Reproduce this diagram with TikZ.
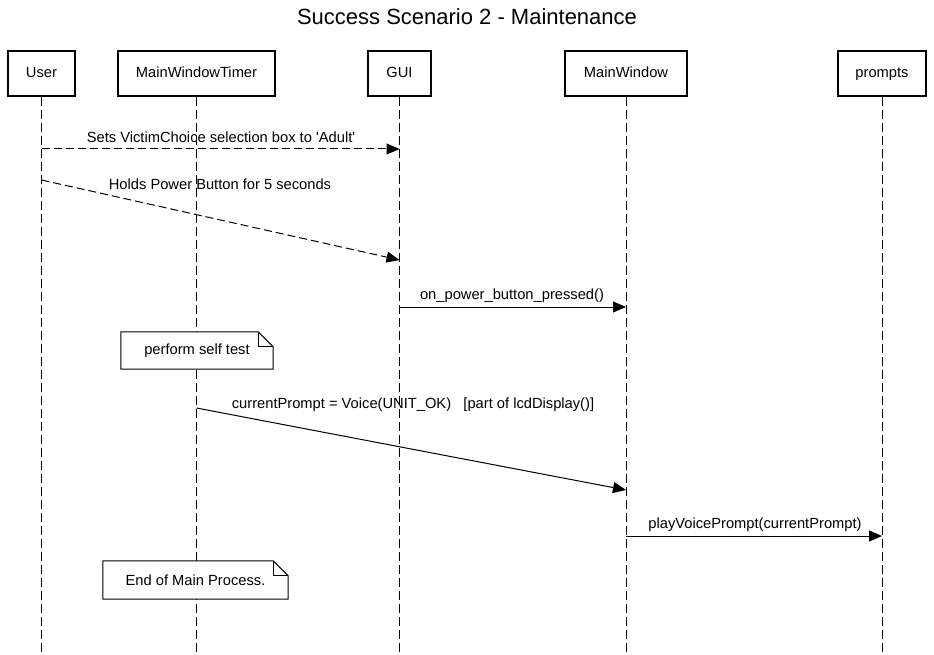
\documentclass[tikz,border=0pt]{standalone}
\usepackage{fontspec}
\setmainfont{Liberation Sans}
\usetikzlibrary{arrows.meta}
\newcommand\straightq{\XeTeXglyph\XeTeXglyphindex "quotesingle"\relax}
\begin{document}
\begin{tikzpicture}[x=1pt,y=-1pt,
  actor/.style={draw=black, line width=2pt, minimum height=45pt, inner sep=0pt, text height=10.6pt, text depth=3pt, font=\fontsize{14.7}{18}\selectfont, fill=white},
  life/.style={dash pattern=on 9pt off 4pt, line width=1pt},
  msg/.style={line width=1pt, -{Triangle[length=13pt,width=11pt]}},
  dmsg/.style={msg, dash pattern=on 8pt off 4pt},
  lbl/.style={font=\fontsize{14.7}{18}\selectfont, inner sep=0pt},
  notebox/.style={fill=white, inner sep=0pt, font=\fontsize{14.7}{18}\selectfont},
  noteline/.style={line width=1pt, line join=miter}
]
\useasboundingbox (0,0) rectangle (934,655);
% title
\node[font=\fontsize{22}{26}\selectfont, inner sep=0pt] (title) at (467,17) {Success Scenario 2 - Maintenance};
% actors
\node[actor, minimum width=67pt]  (U) at (41.5,73.5) {User};
\node[actor, minimum width=157pt] (T) at (196.5,73.5) {MainWindowTimer};
\node[actor, minimum width=63pt]  (G) at (399.5,73.5) {GUI};
\node[actor, minimum width=122pt] (W) at (626,73.5) {MainWindow};
\node[actor, minimum width=88pt]  (P) at (882,73.5) {prompts};
% lifeline ends
\coordinate (Ub) at (41.5,655);
\coordinate (Tb) at (196.5,655);
\coordinate (Gb) at (399.5,655);
\coordinate (Wb) at (626,655);
\coordinate (Pb) at (882,655);
\draw[life] (U.south) -- (Ub);
\draw[life] (T.south) -- (Tb);
\draw[life] (G.south) -- (Gb);
\draw[life] (W.south) -- (Wb);
\draw[life] (P.south) -- (Pb);
% notes
\node[notebox, minimum width=152pt, minimum height=37pt] (n1) at (197,350.5) {perform self test};
\draw[noteline] (n1.south west) -- (n1.north west) -- ([xshift=-15pt]n1.north east) -- ([yshift=-15pt]n1.north east) -- (n1.south east) -- cycle;
\draw[noteline] ([xshift=-15pt]n1.north east) -- ([xshift=-15pt,yshift=-15pt]n1.north east) -- ([yshift=-15pt]n1.north east);
\node[notebox, minimum width=185pt, minimum height=38pt] (n2) at (195.5,580) {End of Main Process.};
\draw[noteline] (n2.south west) -- (n2.north west) -- ([xshift=-15pt]n2.north east) -- ([yshift=-15pt]n2.north east) -- (n2.south east) -- cycle;
\draw[noteline] ([xshift=-15pt]n2.north east) -- ([xshift=-15pt,yshift=-15pt]n2.north east) -- ([yshift=-15pt]n2.north east);
% message points
\coordinate (m1s) at (41.5,149);  \coordinate (m1e) at (399.5,149);
\coordinate (m2s) at (41.5,180);  \coordinate (m2e) at (399.5,260);
\coordinate (m3s) at (399.5,307); \coordinate (m3e) at (626,307);
\coordinate (m4s) at (196.5,408); \coordinate (m4e) at (626,490);
\coordinate (m5s) at (626,536);   \coordinate (m5e) at (882,536);
\draw[dmsg] (m1s) -- (m1e);
\draw[dmsg] (m2s) -- (m2e);
\draw[msg] (m3s) -- (m3e);
\draw[msg] (m4s) -- (m4e);
\draw[msg] (m5s) -- (m5e);
% labels
\node[lbl] (l1) at (221,137) {Sets VictimChoice selection box to \straightq Adult\straightq};
\node[lbl] (l2) at (220,184) {Holds Power Button for 5 seconds};
\node[lbl] (l3) at (512,296) {on\_power\_button\_pressed()};
\node[lbl] (l4) at (413,405) {currentPrompt = Voice(UNIT\_OK)\ \ \ [part of lcdDisplay()]};
\node[lbl] (l5) at (755,525) {playVoicePrompt(currentPrompt)};
\end{tikzpicture}
\end{document}
